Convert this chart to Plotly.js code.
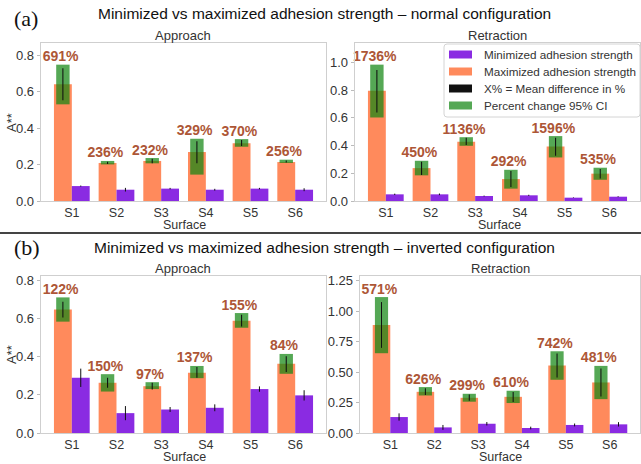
<!DOCTYPE html>
<html>
<head>
<meta charset="utf-8">
<script src="https://cdn.plot.ly/plotly-3.0.1.min.js"></script>
<style>
  html, body { margin: 0; padding: 0; background: #fff; }
  #chart { width: 641px; height: 464px; }
</style>
</head>
<body>
<div id="chart"></div>
<script>
// Surfaces tested
const surfaces = ['S1', 'S2', 'S3', 'S4', 'S5', 'S6'];

// (a) normal configuration — approach
const normAppMax    = [0.641, 0.209, 0.220, 0.269, 0.317, 0.214];
const normAppMin    = [0.082, 0.062, 0.068, 0.062, 0.068, 0.062];
const normAppMinErr = [0.003, 0.010, 0.004, 0.005, 0.004, 0.008];
const normAppCiLo   = [0.531, 0.201, 0.207, 0.145, 0.298, 0.209];
const normAppCiHi   = [0.749, 0.220, 0.236, 0.342, 0.340, 0.227];
const normAppDiffLo = [0.553, 0.203, 0.207, 0.207, 0.302, 0.211];
const normAppDiffHi = [0.729, 0.216, 0.232, 0.328, 0.335, 0.223];
const normAppPct    = ['691%', '236%', '232%', '329%', '370%', '256%'];

// (a) normal configuration — retraction
const normRetMax    = [0.794, 0.237, 0.427, 0.158, 0.393, 0.197];
const normRetMin    = [0.048, 0.048, 0.036, 0.041, 0.024, 0.031];
const normRetMinErr = [0.005, 0.006, 0.003, 0.004, 0.002, 0.003];
const normRetCiLo   = [0.602, 0.185, 0.398, 0.089, 0.314, 0.153];
const normRetCiHi   = [0.983, 0.290, 0.460, 0.225, 0.468, 0.240];
const normRetDiffLo = [0.638, 0.187, 0.403, 0.101, 0.326, 0.163];
const normRetDiffHi = [0.945, 0.283, 0.456, 0.216, 0.456, 0.230];
const normRetPct    = ['1736%', '450%', '1136%', '292%', '1596%', '535%'];

// (b) inverted configuration — approach
const invAppMax    = [0.647, 0.263, 0.245, 0.315, 0.588, 0.362];
const invAppMin    = [0.289, 0.104, 0.123, 0.132, 0.230, 0.197];
const invAppMinErr = [0.048, 0.037, 0.013, 0.018, 0.014, 0.027];
const invAppCiLo   = [0.583, 0.217, 0.230, 0.287, 0.551, 0.310];
const invAppCiHi   = [0.710, 0.308, 0.266, 0.351, 0.628, 0.414];
const invAppDiffLo = [0.605, 0.237, 0.228, 0.289, 0.557, 0.320];
const invAppDiffHi = [0.687, 0.289, 0.263, 0.346, 0.619, 0.402];
const invAppPct    = ['122%', '150%', '97%', '137%', '155%', '84%'];

// (b) inverted configuration — retraction
const invRetMax    = [0.887, 0.338, 0.289, 0.297, 0.554, 0.415];
const invRetMin    = [0.131, 0.046, 0.076, 0.041, 0.066, 0.071];
const invRetMinErr = [0.030, 0.020, 0.014, 0.011, 0.012, 0.018];
const invRetCiLo   = [0.655, 0.308, 0.257, 0.246, 0.437, 0.278];
const invRetCiHi   = [1.116, 0.377, 0.322, 0.347, 0.671, 0.551];
const invRetDiffLo = [0.699, 0.311, 0.265, 0.254, 0.456, 0.300];
const invRetDiffHi = [1.075, 0.368, 0.317, 0.336, 0.652, 0.529];
const invRetPct    = ['571%', '626%', '299%', '610%', '742%', '481%'];

// Legend entries in display order
const legendLabels = ['Minimized adhesion strength', 'Maximized adhesion strength',
                      'X% = Mean difference in %', 'Percent change 95% CI'];

const COL_MAX = '#ff8a5c';
const COL_MIN = '#8a2be2';
const COL_CI = 'rgba(20,135,20,0.72)';
const COL_DIFF = '#111';
const COL_LABEL = '#ad5636';
const legendColors = [COL_MIN, COL_MAX, COL_DIFF, COL_CI];
const FONT = 'Liberation Sans, Arial, sans-serif';
const INK = '#333';

const pos = surfaces.map((_, i) => i);

function panelTraces(xa, ya, d) {
  const common = { xaxis: xa, yaxis: ya, hoverinfo: 'skip', showlegend: false };
  const span = (lo, hi) => hi.map((h, i) => h - lo[i]);
  return [
    Object.assign({
      type: 'bar', name: legendLabels[1],
      x: pos, y: d.max, offset: -0.4, width: 0.4,
      marker: { color: COL_MAX, line: { width: 0 } }
    }, common),
    Object.assign({
      type: 'bar', name: legendLabels[0],
      x: pos, y: d.min, offset: 0, width: 0.4,
      marker: { color: COL_MIN, line: { width: 0 } },
      error_y: { type: 'data', array: d.minErr, color: '#111', thickness: 1, width: 0 }
    }, common),
    Object.assign({
      type: 'bar', name: legendLabels[3],
      x: pos, base: d.ciLo, y: span(d.ciLo, d.ciHi), offset: -0.35, width: 0.3,
      marker: { color: COL_CI, line: { width: 0 } }
    }, common),
    Object.assign({
      type: 'bar', name: legendLabels[2],
      x: pos, base: d.diffLo, y: span(d.diffLo, d.diffHi), offset: -0.212, width: 0.024,
      marker: { color: COL_DIFF, line: { width: 0 } }
    }, common),
    Object.assign({
      type: 'scatter', mode: 'text',
      x: pos.map(p => p - 0.25), y: d.ciHi, text: d.pct,
      textposition: 'top center', cliponaxis: false,
      textfont: { family: FONT, size: 14, color: COL_LABEL, weight: 'bold' }
    }, common)
  ];
}

const data = [].concat(
  panelTraces('x', 'y', { max: normAppMax, min: normAppMin, minErr: normAppMinErr,
    ciLo: normAppCiLo, ciHi: normAppCiHi, diffLo: normAppDiffLo, diffHi: normAppDiffHi, pct: normAppPct }),
  panelTraces('x2', 'y2', { max: normRetMax, min: normRetMin, minErr: normRetMinErr,
    ciLo: normRetCiLo, ciHi: normRetCiHi, diffLo: normRetDiffLo, diffHi: normRetDiffHi, pct: normRetPct }),
  panelTraces('x3', 'y3', { max: invAppMax, min: invAppMin, minErr: invAppMinErr,
    ciLo: invAppCiLo, ciHi: invAppCiHi, diffLo: invAppDiffLo, diffHi: invAppDiffHi, pct: invAppPct }),
  panelTraces('x4', 'y4', { max: invRetMax, min: invRetMin, minErr: invRetMinErr,
    ciLo: invRetCiLo, ciHi: invRetCiHi, diffLo: invRetDiffLo, diffHi: invRetDiffHi, pct: invRetPct })
);

const W = 641, H = 464;
const px = v => v / W;
const py = v => 1 - v / H;

function xAxis(domain, anchor) {
  return {
    domain: domain, anchor: anchor, range: [-0.69, 5.69],
    tickmode: 'array', tickvals: pos, ticktext: surfaces,
    ticks: '', showgrid: false, zeroline: false,
    showline: true, mirror: true, linecolor: '#cfcfcf', linewidth: 1.3,
    tickfont: { family: FONT, size: 12.5, color: INK }
  };
}
function yAxis(domain, anchor, range, dtick, fmt) {
  return {
    domain: domain, anchor: anchor, range: range, dtick: dtick, tick0: 0, tickformat: fmt,
    ticks: 'outside', ticklen: 3, tickcolor: '#bbb',
    showgrid: false, zeroline: false,
    showline: true, mirror: true, linecolor: '#cfcfcf', linewidth: 1.3,
    tickfont: { family: FONT, size: 13, color: INK }
  };
}

const topDom = [py(201), py(43)];
const botDom = [py(433), py(276)];
const leftDom = [px(41), px(326)];

function note(text, x, y, size, extra) {
  return Object.assign({ text: text, x: px(x), y: py(y), xref: 'paper', yref: 'paper',
    xanchor: 'center', yanchor: 'middle', showarrow: false,
    font: { family: FONT, size: size, color: INK } }, extra || {});
}
const SERIF = { family: 'Liberation Serif, Times New Roman, serif', size: 22, color: '#111' };
const TITLE = { family: FONT, size: 15.5, color: '#111' };

// Legend box in the upper-right panel
const LEG = { left: 444, right: 640, top: 44, bottom: 117, row0: 54.5, rowStep: 17, swL: 449, swR: 472, swH: 8, textX: 482 };
const legendShapes = [
  { type: 'path', xref: 'paper', yref: 'paper', layer: 'above',
    path: (() => {
      const r = 3, l = px(LEG.left), rr = px(LEG.right), t = py(LEG.top), b = py(LEG.bottom);
      const rx = px(r) - px(0), ry = py(0) - py(r);
      return `M${l + rx},${t} L${rr - rx},${t} Q${rr},${t} ${rr},${t - ry} L${rr},${b + ry} Q${rr},${b} ${rr - rx},${b} ` +
             `L${l + rx},${b} Q${l},${b} ${l},${b + ry} L${l},${t - ry} Q${l},${t} ${l + rx},${t} Z`;
    })(),
    fillcolor: 'rgba(255,255,255,0.85)', line: { color: '#d4d4d4', width: 1 } }
].concat(legendColors.map((c, i) => ({
  type: 'rect', xref: 'paper', yref: 'paper', layer: 'above',
  x0: px(LEG.swL), x1: px(LEG.swR),
  y0: py(LEG.row0 + i * LEG.rowStep - LEG.swH / 2), y1: py(LEG.row0 + i * LEG.rowStep + LEG.swH / 2),
  fillcolor: c, line: { width: 0 }
})));
const legendNotes = legendLabels.map((t, i) =>
  note(t, LEG.textX, LEG.row0 + i * LEG.rowStep, 11.7, { xanchor: 'left' }));

const layout = {
  width: W, height: H,
  margin: { l: 0, r: 0, t: 0, b: 0 },
  paper_bgcolor: '#fff', plot_bgcolor: '#fff',
  barmode: 'overlay',
  showlegend: false,
  font: { family: FONT, size: 13, color: INK },
  xaxis: xAxis(leftDom, 'y'),
  yaxis: yAxis(topDom, 'x', [0, 0.868], 0.2, '.1f'),
  xaxis2: xAxis([px(355), px(640)], 'y2'),
  yaxis2: yAxis(topDom, 'x2', [0, 1.139], 0.2, '.1f'),
  xaxis3: xAxis(leftDom, 'y3'),
  yaxis3: yAxis(botDom, 'x3', [0, 0.822], 0.2, '.1f'),
  xaxis4: xAxis([px(360), px(640)], 'y4'),
  yaxis4: yAxis(botDom, 'x4', [0, 1.289], 0.25, '.2f'),
  annotations: [
    note('(a)', 12, 18, 22, { xanchor: 'left', font: SERIF }),
    note('Minimized vs maximized adhesion strength \u2013 normal configuration', 324, 14, 15.5, { font: TITLE }),
    note('Approach', 183, 36, 13),
    note('Retraction', 497, 36, 13),
    note('Surface', 184, 225, 12.5),
    note('Surface', 499, 225, 12.5),
    note('A**', 11, 123, 13, { textangle: -90 }),
    note('(b)', 12, 247, 22, { xanchor: 'left', font: SERIF }),
    note('Minimized vs maximized adhesion strength \u2013 inverted configuration', 324, 247, 15.5, { font: TITLE }),
    note('Approach', 183, 268, 13),
    note('Retraction', 500, 268, 13),
    note('Surface', 184, 457, 12.5),
    note('Surface', 500, 457, 12.5),
    note('A**', 11, 355, 13, { textangle: -90 })
  ].concat(legendNotes),
  shapes: [
    { type: 'line', xref: 'paper', yref: 'paper', x0: 0, x1: 1, y0: py(233), y1: py(233),
      line: { color: '#444', width: 1.8 } }
  ].concat(legendShapes)
};

Plotly.newPlot('chart', data, layout, { displayModeBar: false, staticPlot: true });
</script>
</body>
</html>
